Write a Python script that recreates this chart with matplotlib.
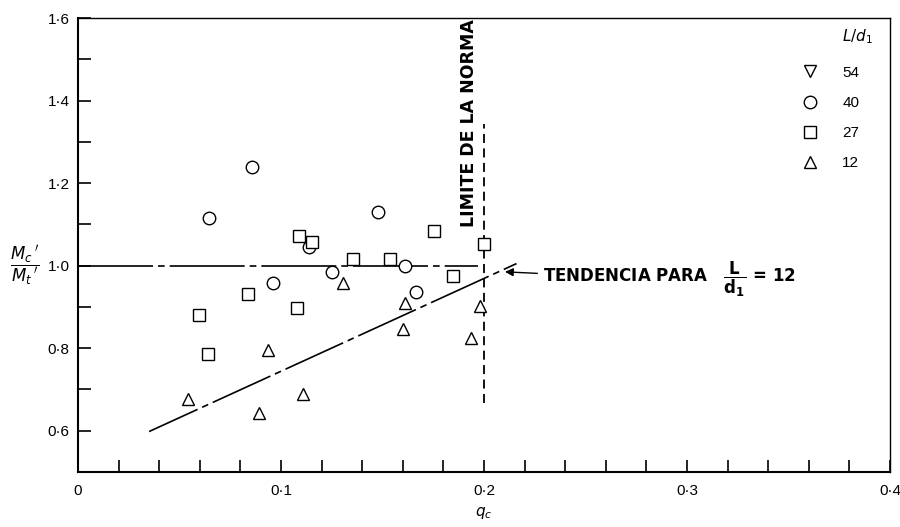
import matplotlib
matplotlib.use("Agg")
import matplotlib.pyplot as plt
from matplotlib.lines import Line2D
from matplotlib.ticker import MultipleLocator, FuncFormatter

plt.rcParams['font.family'] = ['Liberation Sans', 'DejaVu Sans']
plt.rcParams['mathtext.fontset'] = 'dejavusans'

# L/d1 = 40
circ_x = [0.0645, 0.0857, 0.096, 0.114, 0.125, 0.148, 0.161, 0.1665]
circ_y = [1.115, 1.239, 0.959, 1.046, 0.985, 1.130, 1.000, 0.937]
# L/d1 = 27
sq_x = [0.0596, 0.064, 0.0837, 0.108, 0.109, 0.115, 0.1355, 0.1537, 0.1754, 0.1847, 0.200]
sq_y = [0.880, 0.785, 0.932, 0.898, 1.071, 1.058, 1.017, 1.017, 1.083, 0.976, 1.053]
# L/d1 = 12
tri_x = [0.054, 0.089, 0.0935, 0.111, 0.1305, 0.160, 0.161, 0.1936, 0.198]
tri_y = [0.676, 0.644, 0.795, 0.688, 0.958, 0.846, 0.910, 0.824, 0.902]

legend_labels = ["54", "40", "27", "12"]
legend_markers = ["v", "o", "s", "^"]

# reference lines
ref_x = [0.0, 0.197]
ref_y = [1.0, 1.0]
trend_x = [0.035, 0.216]
trend_y = [0.598, 1.005]
limit_x = [0.2, 0.2]
limit_y = [0.666, 1.344]


def fmt(v, pos):
    if abs(v) < 1e-9:
        return "0"
    return f"{v:.1f}".replace(".", "\u00b7")


fig = plt.figure(figsize=(9, 5.27), dpi=100)
ax = fig.add_axes([0.0867, 0.1044, 0.9023, 0.8614])

mk = dict(linestyle="none", markersize=9, markerfacecolor="white",
          markeredgecolor="black", markeredgewidth=1.0, color="black")
ax.plot(circ_x, circ_y, marker="o", zorder=3, **mk)
ax.plot(sq_x, sq_y, marker="s", zorder=3, **mk)
ax.plot(tri_x, tri_y, marker="^", zorder=3, **mk)

ax.plot(ref_x, ref_y, color="black", lw=1.2, linestyle=(0, (45, 3, 4, 3)), zorder=2)
ax.plot(trend_x, trend_y, color="black", lw=1.2, linestyle=(6, (38, 3, 4, 3)), zorder=2)
ax.plot(limit_x, limit_y, color="black", lw=1.3, linestyle=(0, (5, 3)), zorder=2)

ax.text(0.1926, 1.346, "LIMITE DE LA NORMA", rotation=90, ha="center", va="center",
        fontsize=12.5, fontweight="bold", family=["DejaVu Sans"])
ax.annotate(r"TENDENCIA PARA   $\dfrac{\mathbf{L}}{\mathbf{d_1}}$ = 12",
            xy=(0.2103, 0.985), xytext=(0.229, 0.966), ha="left", va="center",
            fontsize=12, fontweight="bold", family=["DejaVu Sans"],
            arrowprops=dict(arrowstyle="-|>", color="black", lw=1.0,
                            shrinkA=2, shrinkB=0, mutation_scale=12))

ax.set_xlim(0, 0.4)
ax.set_ylim(0.5, 1.6)
ax.xaxis.set_major_locator(MultipleLocator(0.1))
ax.xaxis.set_minor_locator(MultipleLocator(0.02))
ax.yaxis.set_major_locator(MultipleLocator(0.2))
ax.yaxis.set_minor_locator(MultipleLocator(0.1))
ax.xaxis.set_major_formatter(FuncFormatter(fmt))
ax.yaxis.set_major_formatter(FuncFormatter(fmt))
ax.set_yticks([0.6, 0.8, 1.0, 1.2, 1.4, 1.6])
ax.tick_params(which="both", direction="in", length=9, width=1.2, labelsize=11)
ax.tick_params(axis="x", pad=9)
ax.tick_params(axis="y", pad=6)
for s in ax.spines.values():
    s.set_linewidth(1.5)
ax.spines["top"].set_linewidth(1.0)
ax.spines["right"].set_linewidth(1.0)

ax.set_xlabel(r"$q_c$", fontsize=11, labelpad=5)
ax.set_ylabel(r"$\dfrac{M_c\,'}{M_t\,'}$", fontsize=12, rotation=0, ha="center", va="center")
ax.yaxis.set_label_coords(-0.065, 0.4545)

handles = [Line2D([], [], marker=m, **mk) for m in legend_markers]
ax.text(0.941, 0.958, r"$L/d_1$", transform=ax.transAxes, ha="left", va="center",
        fontsize=11)
ax.legend(handles, legend_labels, loc="upper right",
          bbox_to_anchor=(0.979, 0.925), frameon=False, handlelength=1.0,
          handletextpad=1.6, labelspacing=1.05, fontsize=11)

fig.savefig("out.png", dpi=100)
